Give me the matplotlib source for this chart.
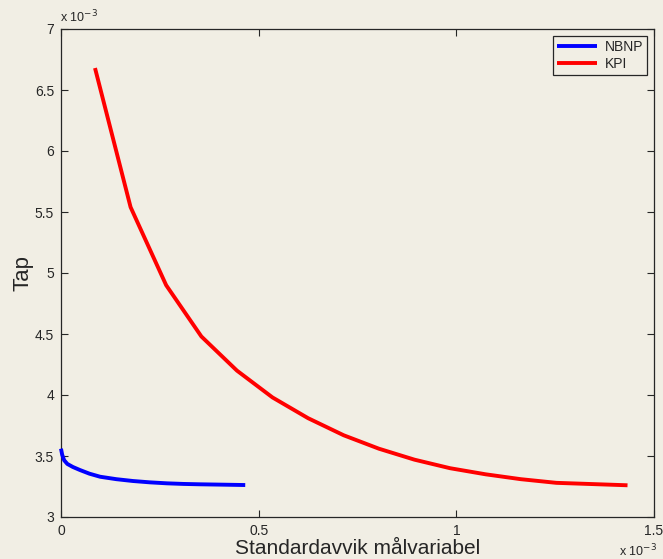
import matplotlib
matplotlib.use("Agg")
import matplotlib.pyplot as plt

plt.rcParams['font.family'] = ['Liberation Sans', 'DejaVu Sans']

# values in units of 1e-3
kpi_x = [0.086, 0.176, 0.266, 0.355, 0.445, 0.535, 0.625, 0.715, 0.804,
         0.894, 0.984, 1.074, 1.163, 1.253, 1.343, 1.433]
kpi_y = [6.68, 5.54, 4.90, 4.48, 4.20, 3.98, 3.81, 3.67, 3.56,
         3.47, 3.40, 3.35, 3.31, 3.28, 3.27, 3.26]

nbnp_x = [0.0, 0.003, 0.008, 0.016, 0.030, 0.048, 0.072, 0.099, 0.14, 0.182,
          0.225, 0.268, 0.31, 0.352, 0.41, 0.466]
nbnp_y = [3.56, 3.51, 3.465, 3.435, 3.41, 3.385, 3.355, 3.33, 3.31, 3.295,
          3.284, 3.276, 3.271, 3.268, 3.265, 3.262]

xticks = [0, 0.5, 1, 1.5]
xticklabels = ['0', '0.5', '1', '1.5']
yticks = [3, 3.5, 4, 4.5, 5, 5.5, 6, 6.5, 7]
yticklabels = ['3', '3.5', '4', '4.5', '5', '5.5', '6', '6.5', '7']

bg = '#F1EEE4'
txt = '#262626'

fig = plt.figure(figsize=(6.63, 5.59), dpi=100, facecolor=bg)
ax = fig.add_axes([61/663, 42/559, (654-61)/663, (517-29)/559])
ax.set_facecolor(bg)

ax.plot(nbnp_x, nbnp_y, color='#0000FF', lw=2.8, label='NBNP', solid_capstyle='butt',
        clip_on=False, zorder=3)
ax.plot(kpi_x, kpi_y, color='#FF0000', lw=2.8, label='KPI', solid_capstyle='butt',
        zorder=3)

ax.set_xlim(0, 1.5)
ax.set_ylim(3, 7)
ax.set_xticks(xticks)
ax.set_xticklabels(xticklabels)
ax.set_yticks(yticks)
ax.set_yticklabels(yticklabels)
ax.tick_params(direction='in', length=5, width=0.8, colors=txt, labelsize=10,
               top=True, right=True, pad=5)
for s in ax.spines.values():
    s.set_color(txt)
    s.set_linewidth(0.9)

ax.set_xlabel('Standardavvik målvariabel', fontsize=15, color=txt, labelpad=1)
ax.set_ylabel('Tap', fontsize=16, color=txt, labelpad=1)

fig.text(60/663, 1 - 17/559, r'x 10$^{-3}$', fontsize=9, color=txt, va='center', ha='left')
fig.text(619/663, 1 - 551/559, r'x 10$^{-3}$', fontsize=9, color=txt, va='center', ha='left')

leg = ax.legend(loc='upper right', fontsize=10, frameon=True, fancybox=False,
                edgecolor=txt, facecolor=bg, framealpha=1, handlelength=2.9,
                borderaxespad=0.5, handletextpad=0.5, borderpad=0.3, labelspacing=0.2)
leg.get_frame().set_linewidth(0.9)
for t in leg.get_texts():
    t.set_color(txt)

fig.savefig('out.png', dpi=100, facecolor=bg)
